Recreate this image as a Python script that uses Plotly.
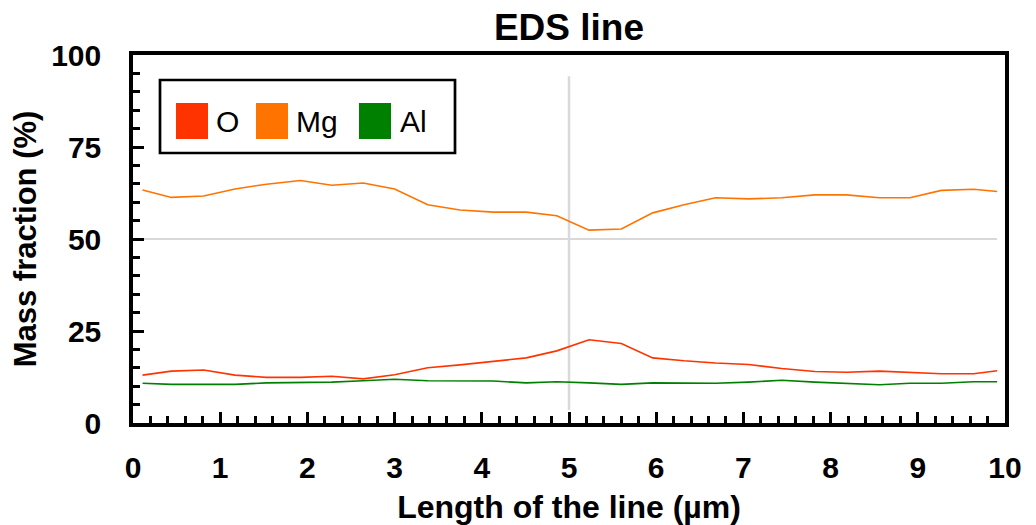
import plotly.graph_objects as go

# ---- data ----
length_um = [0.11, 0.44, 0.81, 1.17, 1.53, 1.92, 2.28, 2.64, 3.00, 3.38,
             3.75, 4.13, 4.51, 4.86, 5.23, 5.60, 5.96, 6.32, 6.68, 7.06,
             7.44, 7.82, 8.18, 8.56, 8.91, 9.27, 9.64, 9.91]
o_mass = [13.0, 14.1, 14.4, 13.0, 12.4, 12.4, 12.7, 12.0, 13.1, 15.0,
          15.8, 16.7, 17.7, 19.6, 22.6, 21.6, 17.7, 16.9, 16.3, 15.9,
          14.8, 14.0, 13.8, 14.1, 13.8, 13.4, 13.4, 14.2]
mg_mass = [63.3, 61.3, 61.7, 63.6, 64.9, 65.9, 64.6, 65.2, 63.6, 59.3,
           57.9, 57.3, 57.3, 56.3, 52.4, 52.7, 57.1, 59.3, 61.2, 60.9,
           61.2, 62.0, 62.0, 61.2, 61.2, 63.2, 63.5, 62.9]
al_mass = [10.8, 10.5, 10.5, 10.5, 10.9, 11.1, 11.1, 11.5, 11.9, 11.5,
           11.4, 11.4, 10.9, 11.2, 10.9, 10.5, 10.9, 10.9, 10.8, 11.1,
           11.6, 11.1, 10.8, 10.4, 10.8, 10.8, 11.2, 11.2]
series_names = ["O", "Mg", "Al"]
series_values = [o_mass, mg_mass, al_mass]
series_colors = ["#ff3300", "#ff7300", "#008000"]

x_ticks = [0, 1, 2, 3, 4, 5, 6, 7, 8, 9, 10]
y_ticks = [0, 25, 50, 75, 100]

# ---- layout geometry (page has an 8px body margin) ----
OFF = 8
W, H = 1036 - OFF, 525 - OFF
ML, MT = 133 - OFF, 55 - OFF
PLOT_R, PLOT_B = 1005 - OFF, 423 - OFF
MR, MB = W - PLOT_R, H - PLOT_B
PW, PH = W - ML - MR, H - MT - MB
FONT = "Liberation Sans, Arial, sans-serif"


def px(xpage):
    return (xpage - OFF - ML) / PW


def py(ypage):
    return (PLOT_B - (ypage - OFF)) / PH


fig = go.Figure()
for name, vals, col in zip(series_names, series_values, series_colors):
    fig.add_trace(go.Scatter(x=length_um, y=vals, mode="lines", name=name,
                             line=dict(color=col, width=1.6),
                             showlegend=False))

shapes = []
annotations = []
# partial grid lines (stop short of the frame as in the reference)
grid_col = "#d9d9d9"
shapes.append(dict(type="line", xref="x", yref="y", x0=0.11, x1=9.91,
                   y0=50, y1=50, line=dict(color=grid_col, width=2),
                   layer="below"))
shapes.append(dict(type="line", xref="x", yref="y", x0=5, x1=5,
                   y0=3.5, y1=94.2, line=dict(color=grid_col, width=2.5),
                   layer="below"))

# manual legend box
shapes.append(dict(type="rect", xref="paper", yref="paper",
                   x0=px(160), x1=px(455), y0=py(153), y1=py(80),
                   line=dict(color="black", width=2.7),
                   fillcolor="white", layer="above"))
sq_left = [176, 256, 359]
txt_left = [214, 294, 398]
for name, col, sl, tl in zip(series_names, series_colors, sq_left, txt_left):
    shapes.append(dict(type="rect", xref="paper", yref="paper",
                       x0=px(sl), x1=px(sl + 32), y0=py(139), y1=py(103),
                       line=dict(width=0), fillcolor=col, layer="above"))
    annotations.append(dict(xref="paper", yref="paper", x=px(tl), y=py(121),
                            xanchor="left", yanchor="middle", text=name,
                            showarrow=False,
                            font=dict(family=FONT, size=30, color="black")))

axis_common = dict(showline=True, linecolor="black", linewidth=3.5,
                   mirror=True, ticks="inside", tickcolor="black",
                   tickwidth=3, ticklen=11, showgrid=False, zeroline=False,
                   tickfont=dict(family=FONT, size=30, color="black",
                                 weight="bold"))

fig.update_layout(
    width=W, height=H,
    margin=dict(l=ML, r=MR, t=MT, b=MB, autoexpand=False),
    plot_bgcolor="white", paper_bgcolor="white",
    title=dict(text="EDS line", x=0.5, xref="paper", xanchor="center",
               y=1 - (27 - OFF) / H, yref="container", yanchor="middle",
               font=dict(family=FONT, size=37, color="black",
                         weight="bold")),
    xaxis=dict(range=[0, 10], tickvals=x_ticks,
               ticklabelstandoff=15,
               minor=dict(dtick=0.2, tick0=0, ticks="inside", ticklen=7,
                          tickwidth=3, tickcolor="black", showgrid=False),
               title=dict(text="Length of the line (µm)", standoff=16,
                          font=dict(family=FONT, size=32, color="black",
                                    weight="bold")),
               **axis_common),
    yaxis=dict(range=[0, 100], tickvals=y_ticks,
               ticklabelstandoff=22,
               minor=dict(dtick=5, tick0=0, ticks="inside", ticklen=7,
                          tickwidth=3, tickcolor="black", showgrid=False),
               title=dict(text="Mass fraction (%)", standoff=10,
                          font=dict(family=FONT, size=31, color="black",
                                    weight="bold")),
               **axis_common),
    shapes=shapes,
    annotations=annotations,
    showlegend=False,
)

fig.write_html("out.html")
